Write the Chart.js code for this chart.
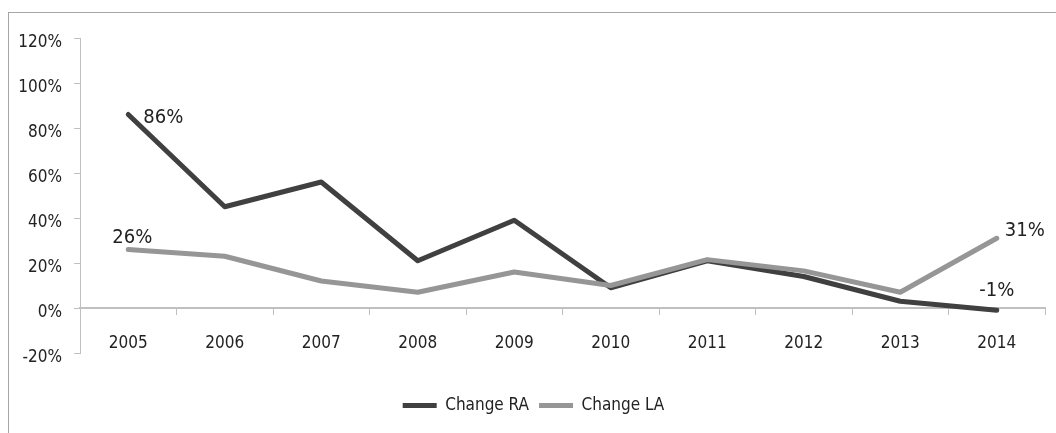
<!DOCTYPE html>
<html>
<head>
<meta charset="utf-8">
<script src="https://cdn.jsdelivr.net/npm/chart.js@4/dist/chart.umd.min.js"></script>
<style>
  html, body { margin: 0; padding: 0; background: #fff; overflow: hidden; }
  #frame { position: absolute; left: 8px; top: 12px; width: 1100px; height: 500px; border: 1px solid #a6a6a6; }
  #wrap { position: absolute; left: 0; top: 0; width: 1056px; height: 433px; }
</style>
</head>
<body>
<div id="frame"></div>
<div id="wrap"><canvas id="chart"></canvas></div>
<script>
// Categories and series (percent change)
const years = ['2005', '2006', '2007', '2008', '2009', '2010', '2011', '2012', '2013', '2014'];
const changeRA = [86, 45, 56, 21, 39, 9, 21, 14, 3, -1];
const changeLA = [26, 23, 12, 7, 16, 10, 21.5, 16.5, 7, 31];
const yTicks = [-20, 0, 20, 40, 60, 80, 100, 120];

const FONT = "'Liberation Sans Narrow', 'DejaVu Sans Condensed', sans-serif";
const TEXT = '#222';
const AXIS = '#c0c0c0';

// Draws the value labels on the first and last points
const pointLabels = {
    id: 'pointLabels',
    afterDatasetsDraw(chart, args, opts) {
        const ctx = chart.ctx;
        ctx.save();
        ctx.font = opts.size + 'px ' + FONT;
        ctx.fillStyle = TEXT;
        ctx.textBaseline = 'middle';
        opts.items.forEach(item => {
            const meta = chart.getDatasetMeta(item.ds);
            const pt = meta.data[item.i];
            const v = chart.data.datasets[item.ds].data[item.i];
            ctx.textAlign = item.align;
            ctx.fillText(Math.round(v) + '%', pt.x + item.dx, pt.y + item.dy);
        });
        ctx.restore();
    }
};

// Moves the legend down, closer to the bottom edge
const legendShift = {
    id: 'legendShift',
    afterLayout(chart) {
        const lg = chart.legend;
        lg.top += 34; lg.bottom += 34;
        lg.left += 11; lg.right += 11;
    }
};

new Chart(document.getElementById('chart'), {
    type: 'line',
    data: {
        labels: years,
        datasets: [
            {
                label: 'Change RA',
                data: changeRA,
                borderColor: '#404040',
                backgroundColor: '#404040',
                borderWidth: 5,
                order: 1
            },
            {
                label: 'Change LA',
                data: changeLA,
                borderColor: '#969696',
                backgroundColor: '#969696',
                borderWidth: 5,
                order: 0
            }
        ]
    },
    options: {
        responsive: true,
        maintainAspectRatio: false,
        animation: false,
        layout: { padding: { left: 0, top: 38, right: 11, bottom: 43 } },
        elements: {
            point: { radius: 0, hoverRadius: 0 },
            line: { tension: 0, borderJoinStyle: 'round', borderCapStyle: 'round' }
        },
        scales: {
            x: {
                position: { y: 0 },
                offset: true,
                grid: { display: true, offset: true, drawOnChartArea: false, drawTicks: true, tickLength: 6, color: AXIS },
                border: { display: true, color: AXIS, width: 2 },
                ticks: { color: TEXT, padding: 19, font: { family: FONT, size: 17 } }
            },
            y: {
                min: -20,
                max: 120,
                afterFit(scale) { scale.width = 80; },
                afterBuildTicks(scale) { scale.ticks = yTicks.map(v => ({ value: v })); },
                grid: { drawOnChartArea: false, drawTicks: true, tickLength: 6, color: AXIS },
                border: { display: true, color: AXIS, width: 1 },
                ticks: {
                    color: TEXT,
                    padding: 12,
                    labelOffset: 5,
                    font: { family: FONT, size: 17 },
                    callback: v => v + '%'
                }
            }
        },
        plugins: {
            legend: {
                position: 'bottom',
                labels: {
                    color: TEXT,
                    font: { family: FONT, size: 17 },
                    usePointStyle: true,
                    pointStyle: 'line',
                    pointStyleWidth: 34,
                    padding: 10,
                    sort: (a, b) => a.datasetIndex - b.datasetIndex
                }
            },
            tooltip: { enabled: false },
            pointLabels: {
                size: 20,
                items: [
                    { ds: 0, i: 0, dx: 15, dy: 3, align: 'left' },
                    { ds: 1, i: 0, dx: 4, dy: -12, align: 'center' },
                    { ds: 1, i: 9, dx: 8, dy: -7, align: 'left' },
                    { ds: 0, i: 9, dx: 0, dy: -19, align: 'center' }
                ]
            }
        }
    },
    plugins: [pointLabels, legendShift]
});
</script>
</body>
</html>
